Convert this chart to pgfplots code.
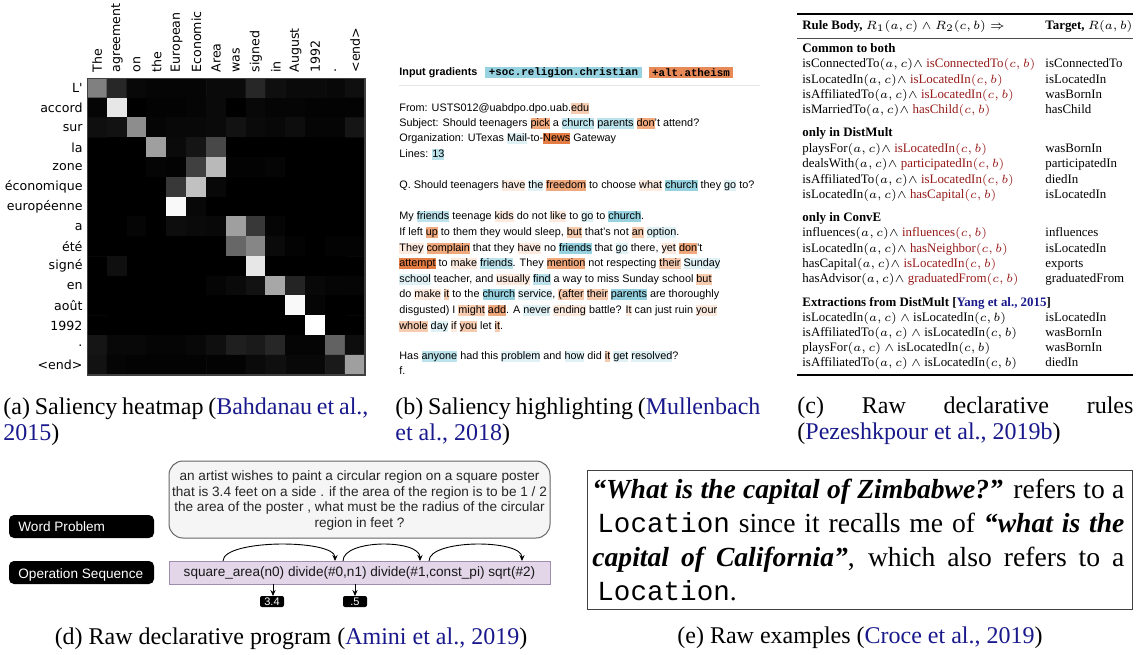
\documentclass[border=0pt]{standalone}
\usepackage{fontspec}
\setmainfont{Liberation Serif}
\setsansfont{Liberation Sans}
\setmonofont{Liberation Mono}
\newfontfamily\dejavu{DejaVu Sans}
\usepackage{pgfplots}
\pgfplotsset{compat=1.18}
\usetikzlibrary{arrows.meta}

\definecolor{navyc}{RGB}{25,25,140}
\definecolor{dred}{RGB}{150,25,25}
\definecolor{bA}{RGB}{150,210,224}
\definecolor{bB}{RGB}{188,227,236}
\definecolor{bC}{RGB}{224,241,246}
\definecolor{oA}{RGB}{228,125,68}
\definecolor{oB}{RGB}{240,168,125}
\definecolor{oC}{RGB}{246,203,176}
\definecolor{oD}{RGB}{252,234,223}
\definecolor{opfill}{RGB}{226,214,232}
\definecolor{opdraw}{RGB}{160,140,175}

\newsavebox\hlbox
\newcommand\hlw[2]{\sbox\hlbox{#2}\rlap{\textcolor{#1}{\rule[-1.4pt]{\wd\hlbox}{5.6pt}}}\usebox\hlbox}
\newcommand\bfontb{\sffamily\fontsize{5.42}{7.75}\selectfont}
\newcommand\bline[2]{\node[anchor=base west, inner sep=0pt, font=\bfontb] at (399,#1) {#2};}
\newcommand\cfont{\fontsize{6.45}{7.5}\selectfont}
\newcommand\R[1]{\textcolor{dred}{#1}}
\newcommand\crow[3]{\node[anchor=base west,inner sep=0pt,font=\cfont] at (802,#1) {#2};
  \node[anchor=base west,inner sep=0pt,font=\cfont] at (1045,#1) {#3};}
\newcommand\capfont{\fontsize{12}{13}\selectfont}
\newcommand\dfont{\sffamily\fontsize{6.8}{7.75}\selectfont}
\newcommand\efont{\fontsize{13.8}{17}\selectfont}

\begin{document}
\begin{tikzpicture}[x=0.5pt,y=-0.5pt]
\path[use as bounding box] (0,0) rectangle (1139,654);

% ---------------- (a) heatmap ----------------
\begin{axis}[
  at={(43.65pt,-187.5pt)}, anchor=south west,
  scale only axis, width=138.85pt, height=148.35pt,
  xmin=-0.5, xmax=13.5, ymin=-0.5, ymax=14.5,
  y dir=reverse, enlargelimits=false, axis on top,
  colormap={bw}{gray(0cm)=(0); gray(1cm)=(1)},
  point meta min=0, point meta max=1,
  xtick={0,...,13}, ytick={0,...,14},
  xticklabels={The,agreement,on,the,European,Economic,Area,was,signed,in,August,1992,.,\textless end\textgreater},
  yticklabels={L\textquotesingle,accord,sur,la,zone,économique,européenne,a,été,signé,en,août,1992,.,\textless end\textgreater},
  xticklabel pos=upper,
  major tick length=0pt,
  tick style={draw=none},
  xticklabel style={font=\dejavu\fontsize{6.3}{7}\selectfont, yshift=2.7pt, rotate=90, anchor=west, inner sep=0pt},
  yticklabel style={font=\dejavu\fontsize{6.3}{7}\selectfont, anchor=east, inner sep=0pt, xshift=-2.2pt},
  axis line style={black!75, line width=0.6pt},
]
\addplot[matrix plot*, mesh/cols=14, point meta=explicit] coordinates {
(0,0)[.50] (1,0)[.15] (2,0)[.03] (3,0)[.02] (4,0)[.02] (5,0)[.02] (6,0)[.04] (7,0)[.04] (8,0)[.15] (9,0)[.06] (10,0)[.04] (11,0)[.04] (12,0)[.03] (13,0)[.06]

(0,1)[.02] (1,1)[.90] (2,1)[.00] (3,1)[.01] (4,1)[.01] (5,1)[.02] (6,1)[.04] (7,1)[.00] (8,1)[.03] (9,1)[.02] (10,1)[.02] (11,1)[.01] (12,1)[.01] (13,1)[.01]

(0,2)[.06] (1,2)[.07] (2,2)[.55] (3,2)[.02] (4,2)[.03] (5,2)[.03] (6,2)[.04] (7,2)[.07] (8,2)[.04] (9,2)[.03] (10,2)[.05] (11,2)[.02] (12,2)[.02] (13,2)[.08]

(0,3)[.00] (1,3)[.00] (2,3)[.00] (3,3)[.62] (4,3)[.04] (5,3)[.08] (6,3)[.28] (7,3)[.00] (8,3)[.00] (9,3)[.00] (10,3)[.00] (11,3)[.00] (12,3)[.00] (13,3)[.00]

(0,4)[.00] (1,4)[.00] (2,4)[.00] (3,4)[.02] (4,4)[.01] (5,4)[.25] (6,4)[.72] (7,4)[.01] (8,4)[.01] (9,4)[.02] (10,4)[.00] (11,4)[.00] (12,4)[.00] (13,4)[.00]

(0,5)[.00] (1,5)[.00] (2,5)[.00] (3,5)[.00] (4,5)[.22] (5,5)[.75] (6,5)[.03] (7,5)[.00] (8,5)[.00] (9,5)[.00] (10,5)[.00] (11,5)[.00] (12,5)[.00] (13,5)[.00]

(0,6)[.00] (1,6)[.00] (2,6)[.00] (3,6)[.00] (4,6)[.97] (5,6)[.03] (6,6)[.00] (7,6)[.00] (8,6)[.00] (9,6)[.00] (10,6)[.00] (11,6)[.00] (12,6)[.00] (13,6)[.00]

(0,7)[.00] (1,7)[.00] (2,7)[.02] (3,7)[.00] (4,7)[.05] (5,7)[.04] (6,7)[.03] (7,7)[.62] (8,7)[.22] (9,7)[.02] (10,7)[.00] (11,7)[.00] (12,7)[.00] (13,7)[.00]

(0,8)[.00] (1,8)[.00] (2,8)[.00] (3,8)[.00] (4,8)[.00] (5,8)[.00] (6,8)[.00] (7,8)[.40] (8,8)[.52] (9,8)[.04] (10,8)[.01] (11,8)[.00] (12,8)[.01] (13,8)[.01]

(0,9)[.00] (1,9)[.06] (2,9)[.00] (3,9)[.00] (4,9)[.00] (5,9)[.00] (6,9)[.00] (7,9)[.00] (8,9)[.90] (9,9)[.00] (10,9)[.00] (11,9)[.00] (12,9)[.00] (13,9)[.00]

(0,10)[.00] (1,10)[.00] (2,10)[.00] (3,10)[.00] (4,10)[.00] (5,10)[.00] (6,10)[.02] (7,10)[.04] (8,10)[.07] (9,10)[.65] (10,10)[.14] (11,10)[.03] (12,10)[.02] (13,10)[.02]

(0,11)[.00] (1,11)[.00] (2,11)[.00] (3,11)[.00] (4,11)[.00] (5,11)[.00] (6,11)[.00] (7,11)[.00] (8,11)[.00] (9,11)[.00] (10,11)[.97] (11,11)[.02] (12,11)[.00] (13,11)[.00]

(0,12)[.00] (1,12)[.00] (2,12)[.00] (3,12)[.00] (4,12)[.00] (5,12)[.00] (6,12)[.00] (7,12)[.00] (8,12)[.00] (9,12)[.00] (10,12)[.00] (11,12)[1.0] (12,12)[.00] (13,12)[.00]

(0,13)[.08] (1,13)[.03] (2,13)[.03] (3,13)[.02] (4,13)[.02] (5,13)[.03] (6,13)[.06] (7,13)[.12] (8,13)[.10] (9,13)[.15] (10,13)[.02] (11,13)[.02] (12,13)[.38] (13,13)[.05]

(0,14)[.07] (1,14)[.02] (2,14)[.01] (3,14)[.01] (4,14)[.01] (5,14)[.01] (6,14)[.01] (7,14)[.01] (8,14)[.04] (9,14)[.06] (10,14)[.03] (11,14)[.03] (12,14)[.10] (13,14)[.62]
};
\end{axis}

\node[anchor=base west, inner sep=0pt, text width=182.5pt, align=justify, font=\capfont] at (3,414)
  {(a) Saliency heatmap ({\color{navyc}Bahdanau et al.,\linebreak 2015})};

% ---------------- (b) highlighting ----------------
\node[anchor=base west, inner sep=0pt, font=\sffamily\bfseries\fontsize{5.4}{6}\selectfont] at (399,75) {Input gradients};
\fill[bA] (485,66.5) rectangle (642,77.5);
\node[inner sep=0pt, font=\ttfamily\bfseries\fontsize{5.4}{6}\selectfont] at (563.5,72.5) {+soc.religion.christian};
\fill[oA!90] (649,66.5) rectangle (733,77.5);
\node[inner sep=0pt, font=\ttfamily\bfseries\fontsize{5.4}{6}\selectfont] at (691,72.5) {+alt.atheism};
\draw[black!10, line width=0.5pt] (399,85) -- (760,85);

\bline{111}{From: USTS012@uabdpo.dpo.uab.\hlw{oC}{edu}}
\bline{126}{Subject: Should teenagers \hlw{oB}{pick} a \hlw{bB}{church} \hlw{bB}{parents} \hlw{oB}{don}'t attend?}
\bline{141}{Organization: UTexas \hlw{bC}{Mail}-to-\hlw{oA}{News} Gateway}
\bline{157}{Lines: \hlw{bB}{13}}
\bline{188}{Q. Should teenagers \hlw{oD}{have} \hlw{bC}{the} \hlw{oB}{freedom} to choose \hlw{oD}{what} \hlw{bA}{church} they \hlw{bC}{go} to?}
\bline{219}{My \hlw{bB}{friends} teenage \hlw{oD}{kids} do not \hlw{oD}{like} to \hlw{bC}{go} to \hlw{bA}{church}.}
\bline{235}{If left \hlw{oB}{up} to them they would sleep, \hlw{oC}{but} that's not \hlw{oC}{an} \hlw{bC}{option}.}
\bline{251}{\hlw{oD}{They} \hlw{oB}{complain} that they \hlw{oD}{have} no \hlw{bA}{friends} that \hlw{bC}{go} there, \hlw{oD}{yet} \hlw{oB}{don}'t}
\bline{266}{\hlw{oA}{attempt} to \hlw{oD}{make} \hlw{bB}{friends}. They \hlw{oB}{mention} not respecting \hlw{oC}{their} \hlw{bC}{Sunday}}
\bline{282}{\hlw{bC}{school} teacher, and \hlw{oD}{usually} \hlw{bB}{find} a way to miss Sunday school \hlw{oC}{but}}
\bline{297}{do \hlw{oD}{make} \hlw{oC}{it} to the \hlw{bA}{church} \hlw{bC}{service}, \hlw{oC}{(after} \hlw{oC}{their} \hlw{bA}{parents} are thoroughly}
\bline{313}{disgusted) I \hlw{oC}{might} \hlw{oB}{add}. A \hlw{bC}{never} \hlw{oD}{ending} battle? \hlw{oD}{It} can just ruin \hlw{oD}{your}}
\bline{329}{\hlw{oC}{whole} \hlw{bC}{day} \hlw{oD}{if} \hlw{oC}{you} let \hlw{oC}{it}.}
\bline{359}{Has \hlw{bB}{anyone} had this \hlw{bC}{problem} and \hlw{bC}{how} did \hlw{oC}{it} \hlw{bC}{get} \hlw{bC}{resolved}?}
\bline{374}{f.}

\node[anchor=base west, inner sep=0pt, text width=182.5pt, align=justify, font=\capfont] at (395,414)
  {(b) Saliency highlighting ({\color{navyc}Mullenbach\linebreak et al., 2018})};

% ---------------- (c) rules table ----------------
\draw[line width=0.8pt] (797,14) -- (1133,14);
\draw[line width=0.4pt, black!70] (797,38) -- (1133,38);
\draw[line width=0.8pt] (797,375) -- (1133,375);
\crow{29}{\textbf{Rule Body,} $R_1(a,c)\wedge R_2(c,b)\Rightarrow$}{\textbf{Target,} $R(a,b)$}
\crow{52}{\textbf{Common to both}}{}
\crow{67}{isConnectedTo$(a,c)\wedge$ \R{isConnectedTo$(c,b)$}}{isConnectedTo}
\crow{83}{isLocatedIn$(a,c)\wedge$ \R{isLocatedIn$(c,b)$}}{isLocatedIn}
\crow{98}{isAffiliatedTo$(a,c)\wedge$ \R{isLocatedIn$(c,b)$}}{wasBornIn}
\crow{113}{isMarriedTo$(a,c)\wedge$ \R{hasChild$(c,b)$}}{hasChild}
\crow{136}{\textbf{only in DistMult}}{}
\crow{152}{playsFor$(a,c)\wedge$ \R{isLocatedIn$(c,b)$}}{wasBornIn}
\crow{167}{dealsWith$(a,c)\wedge$ \R{participatedIn$(c,b)$}}{participatedIn}
\crow{183}{isAffiliatedTo$(a,c)\wedge$ \R{isLocatedIn$(c,b)$}}{diedIn}
\crow{198}{isLocatedIn$(a,c)\wedge$ \R{hasCapital$(c,b)$}}{isLocatedIn}
\crow{221}{\textbf{only in ConvE}}{}
\crow{236}{influences$(a,c)\wedge$ \R{influences$(c,b)$}}{influences}
\crow{252}{isLocatedIn$(a,c)\wedge$ \R{hasNeighbor$(c,b)$}}{isLocatedIn}
\crow{267}{hasCapital$(a,c)\wedge$ \R{isLocatedIn$(c,b)$}}{exports}
\crow{282}{hasAdvisor$(a,c)\wedge$ \R{graduatedFrom$(c,b)$}}{graduatedFrom}
\crow{306}{\textbf{Extractions from DistMult [{\color{navyc}Yang et al., 2015}]}}{}
\crow{321}{isLocatedIn$(a,c)\ \wedge$ isLocatedIn$(c,b)$}{isLocatedIn}
\crow{336}{isAffiliatedTo$(a,c)\ \wedge$ isLocatedIn$(c,b)$}{wasBornIn}
\crow{351}{playsFor$(a,c)\ \wedge$ isLocatedIn$(c,b)$}{wasBornIn}
\crow{366}{isAffiliatedTo$(a,c)\ \wedge$ isLocatedIn$(c,b)$}{diedIn}

\node[anchor=base west, inner sep=0pt, text width=168pt, align=justify, font=\capfont] at (797,413)
  {(c) Raw declarative rules\linebreak ({\color{navyc}Pezeshkpour et al., 2019b})};

% ---------------- (d) program ----------------
\fill[black, rounded corners=2.5pt] (9,515) rectangle (154,538);
\node[anchor=base west, inner sep=0pt, text=white, font=\dfont] at (18,531) {Word Problem};
\fill[black, rounded corners=2.5pt] (9,561) rectangle (154,584);
\node[anchor=base west, inner sep=0pt, text=white, font=\dfont] at (18,578) {Operation Sequence};
\draw[black!60, fill=black!4, rounded corners=7pt, line width=0.5pt] (169,461) rectangle (550,538);
\node[anchor=base, inner sep=0pt, font=\dfont, text=black!85] at (359.5,480.5) {an artist wishes to paint a circular region on a square poster};
\node[anchor=base, inner sep=0pt, font=\dfont, text=black!85] at (359.5,496) {that is 3.4 feet on a side . if the area of the region is to be 1 / 2};
\node[anchor=base, inner sep=0pt, font=\dfont, text=black!85] at (359.5,511.5) {the area of the poster , what must be the radius of the circular};
\node[anchor=base, inner sep=0pt, font=\dfont, text=black!85] at (359.5,527) {region in feet ?};
\draw[opdraw, fill=opfill, line width=0.5pt] (169,561) rectangle (550,584);
\node[anchor=base, inner sep=0pt, font=\dfont, text=black!90] at (359.5,576.5) {square\_area(n0) divide(\#0,n1) divide(\#1,const\_pi) sqrt(\#2)};
\draw[line width=0.45pt, -{Stealth[length=3pt,width=2.6pt]}] (223,561) .. controls (223,539) and (335,539) .. (335,561);
\draw[line width=0.45pt, -{Stealth[length=3pt,width=2.6pt]}] (343,561) .. controls (343,539) and (420,539) .. (420,561);
\draw[line width=0.45pt, -{Stealth[length=3pt,width=2.6pt]}] (429,561) .. controls (429,539) and (522,539) .. (522,561);
\draw[line width=0.45pt, -{Stealth[length=3pt,width=2.6pt]}] (273,584) -- (273,596);
\draw[line width=0.45pt, -{Stealth[length=3pt,width=2.6pt]}] (355,584) -- (355,596);
\fill[black, rounded corners=1pt] (260,596) rectangle (284,607);
\node[inner sep=0pt, text=white, font=\sffamily\fontsize{5.5}{6}\selectfont] at (272,601.5) {3.4};
\fill[black, rounded corners=1pt] (343,596) rectangle (367,607);
\node[inner sep=0pt, text=white, font=\sffamily\fontsize{5.5}{6}\selectfont] at (355,601.5) {.5};
\node[anchor=base, inner sep=0pt, font=\capfont] at (291,644)
  {(d) Raw declarative program ({\color{navyc}Amini et al., 2019})};

% ---------------- (e) examples ----------------
\draw[black!75, line width=0.5pt] (587,470) rectangle (1132,609);
\node[anchor=base west, inner sep=0pt, font=\efont] at (592,498)
  {\makebox[266pt][s]{\textbf{\textit{“What is the capital of Zimbabwe?”}} refers to a}};
\node[anchor=base west, inner sep=0pt, font=\efont] at (597,532)
  {\makebox[263.5pt][s]{\texttt{Location} since it recalls me of \textbf{\textit{“what is the}}}};
\node[anchor=base west, inner sep=0pt, font=\efont] at (592,566)
  {\makebox[266pt][s]{\textbf{\textit{capital of California”}}, which also refers to a}};
\node[anchor=base west, inner sep=0pt, font=\efont] at (597,600)
  {\texttt{Location}.};
\node[anchor=base, inner sep=0pt, font=\capfont] at (860,643)
  {(e) Raw examples ({\color{navyc}Croce et al., 2019})};
\end{tikzpicture}
\end{document}
